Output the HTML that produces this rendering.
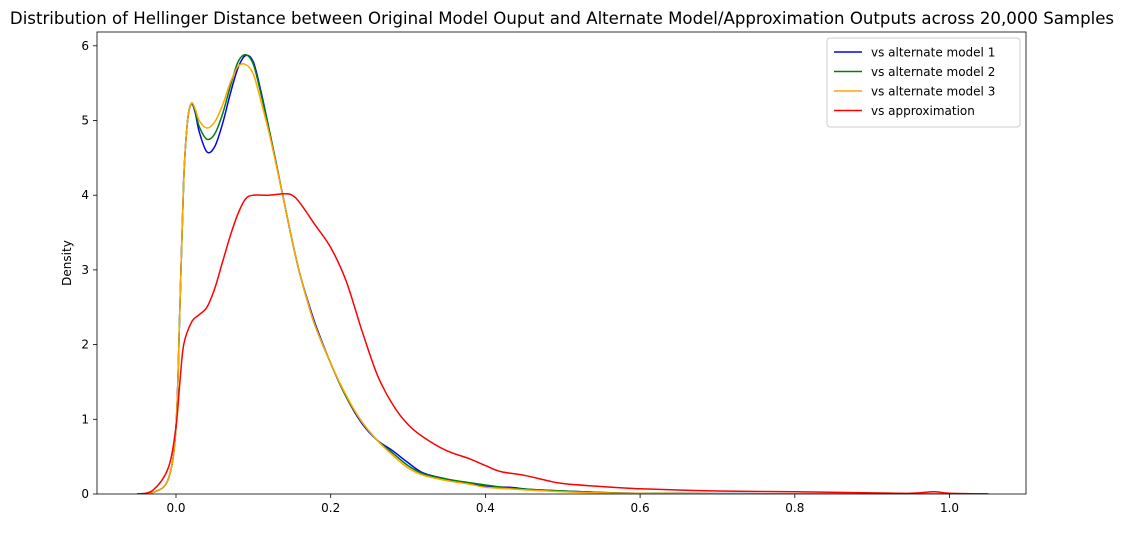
<!DOCTYPE html>
<html><head><meta charset="utf-8"><style>
body{margin:0;background:#fff;font-family:"Liberation Sans","DejaVu Sans",sans-serif}
svg text{font-family:"DejaVu Sans","Liberation Sans",sans-serif}
</style></head><body>
<svg id="chart" width="1124" height="528" xmlns="http://www.w3.org/2000/svg">
<rect width="1124" height="528" fill="#fff"/>
<text x="562" y="24" text-anchor="middle" font-size="16.6">Distribution of Hellinger Distance between Original Model Ouput and Alternate Model/Approximation Outputs across 20,000 Samples</text>
<g id="plot"></g>
</svg>
<script>
const seriesNames=["vs alternate model 1","vs alternate model 2","vs alternate model 3","vs approximation"];
const seriesColors=["#0000ff","#008000","#ffa500","#ff0000"];
const xTicks=[0.0,0.2,0.4,0.6,0.8,1.0];
const yTicks=[0,1,2,3,4,5,6];
const xs1=[-0.05,-0.03,-0.01,0,0.005,0.01,0.015,0.02,0.025,0.03,0.04,0.05,0.06,0.07,0.08,0.09,0.1,0.11,0.12,0.13,0.14,0.15,0.16,0.17,0.18,0.2,0.22,0.24,0.26,0.28,0.3,0.32,0.35,0.38,0.4,0.43,0.46,0.5,0.55,0.6,0.7,0.8,1.0,1.05];
const blue=[0,0.02,0.2,0.9,2.5,4.2,5.0,5.22,5.1,4.85,4.58,4.65,4.95,5.35,5.7,5.87,5.78,5.38,4.9,4.4,3.9,3.4,2.95,2.6,2.28,1.75,1.3,0.95,0.72,0.58,0.42,0.28,0.2,0.14,0.1,0.09,0.06,0.04,0.02,0.01,0.005,0.003,0.002,0];
const green=[0,0.02,0.2,0.9,2.5,4.2,5.0,5.23,5.12,4.92,4.75,4.82,5.08,5.45,5.78,5.88,5.75,5.35,4.9,4.4,3.9,3.4,2.95,2.58,2.25,1.75,1.3,0.97,0.72,0.55,0.38,0.27,0.2,0.15,0.12,0.08,0.06,0.04,0.02,0.01,0.005,0.003,0.002,0];
const orange=[0,0.02,0.2,0.9,2.5,4.2,5.0,5.23,5.15,5.0,4.9,4.98,5.2,5.5,5.72,5.75,5.62,5.25,4.85,4.38,3.9,3.4,2.95,2.58,2.25,1.75,1.32,0.97,0.72,0.52,0.35,0.25,0.18,0.13,0.09,0.07,0.05,0.03,0.015,0.008,0.004,0.002,0.001,0];
const xsRed=[-0.05,-0.03,-0.01,0,0.005,0.01,0.02,0.03,0.04,0.05,0.06,0.07,0.08,0.09,0.1,0.12,0.14,0.15,0.16,0.18,0.2,0.22,0.24,0.26,0.28,0.3,0.32,0.35,0.38,0.4,0.42,0.45,0.48,0.5,0.55,0.6,0.7,0.8,0.9,0.95,0.98,1.0,1.05];
const red=[0,0.05,0.35,0.9,1.5,2.0,2.3,2.4,2.5,2.75,3.1,3.45,3.75,3.95,4.0,4.0,4.02,4.0,3.9,3.6,3.3,2.85,2.2,1.6,1.2,0.93,0.76,0.58,0.47,0.38,0.3,0.25,0.18,0.14,0.1,0.07,0.04,0.03,0.015,0.01,0.03,0.01,0];
const L=97,R=1026,T=32,B=494;
const X=v=>176+v*773.5, Y=v=>494-v*74.7;
const NS="http://www.w3.org/2000/svg";
const g=document.getElementById('plot');
function mk(t,a){const e=document.createElementNS(NS,t);for(const k in a)e.setAttribute(k,a[k]);g.appendChild(e);return e;}
function smooth(P){
 let d='M'+P[0][0].toFixed(1)+','+P[0][1].toFixed(1);
 for(let i=0;i<P.length-1;i++){
  const p0=P[Math.max(0,i-1)],p1=P[i],p2=P[i+1],p3=P[Math.min(P.length-1,i+2)];
  const c1=[p1[0]+(p2[0]-p0[0])/6,p1[1]+(p2[1]-p0[1])/6];
  const c2=[p2[0]-(p3[0]-p1[0])/6,p2[1]-(p3[1]-p1[1])/6];
  d+=' C'+c1[0].toFixed(1)+','+c1[1].toFixed(1)+' '+c2[0].toFixed(1)+','+c2[1].toFixed(1)+' '+p2[0].toFixed(1)+','+p2[1].toFixed(1);
 }
 return d;
}
const xlist=[xs1,xs1,xs1,xsRed], ylist=[blue,green,orange,red];
const clip=mk('clipPath',{id:'c'});clip.innerHTML='<rect x="'+L+'" y="'+T+'" width="'+(R-L)+'" height="'+(B-T)+'"/>';
ylist.forEach((ys,i)=>{
 const P=ys.map((v,j)=>[X(xlist[i][j]),Y(v)]);
 const p=mk('path',{d:smooth(P),fill:'none',stroke:seriesColors[i],'stroke-width':1.5,'stroke-linejoin':'round','clip-path':'url(#c)'});
 
 
});
const frame=mk('rect',{x:L,y:T,width:R-L,height:B-T,fill:'none',stroke:'#000','stroke-width':0.8});


xTicks.forEach(v=>{
 mk('line',{x1:X(v),x2:X(v),y1:B,y2:B+4,stroke:'#000','stroke-width':0.8});
 const t=mk('text',{x:X(v),y:B+18,'text-anchor':'middle','font-size':12});t.textContent=v.toFixed(1);
 
 
});
yTicks.forEach(v=>{
 mk('line',{x1:L-4,x2:L,y1:Y(v),y2:Y(v),stroke:'#000','stroke-width':0.8});
 const t=mk('text',{x:L-8,y:Y(v)+4,'text-anchor':'end','font-size':12});t.textContent=v;
 
 
});
const yl=mk('text',{x:71,y:263,'text-anchor':'middle','font-size':12,transform:'rotate(-90 71 263)'});yl.textContent='Density';


const lg=mk('rect',{x:827,y:38,width:193,height:89,fill:'#fff',stroke:'#ccc',rx:3});


seriesNames.forEach((n,i)=>{
 const y=52+i*19.5;
 mk('line',{x1:834,x2:862,y1:y,y2:y,stroke:seriesColors[i],'stroke-width':1.5});
 const t=mk('text',{x:871,y:y+4.5,'font-size':12});t.textContent=n;
 
 
});
</script>
</body></html>
